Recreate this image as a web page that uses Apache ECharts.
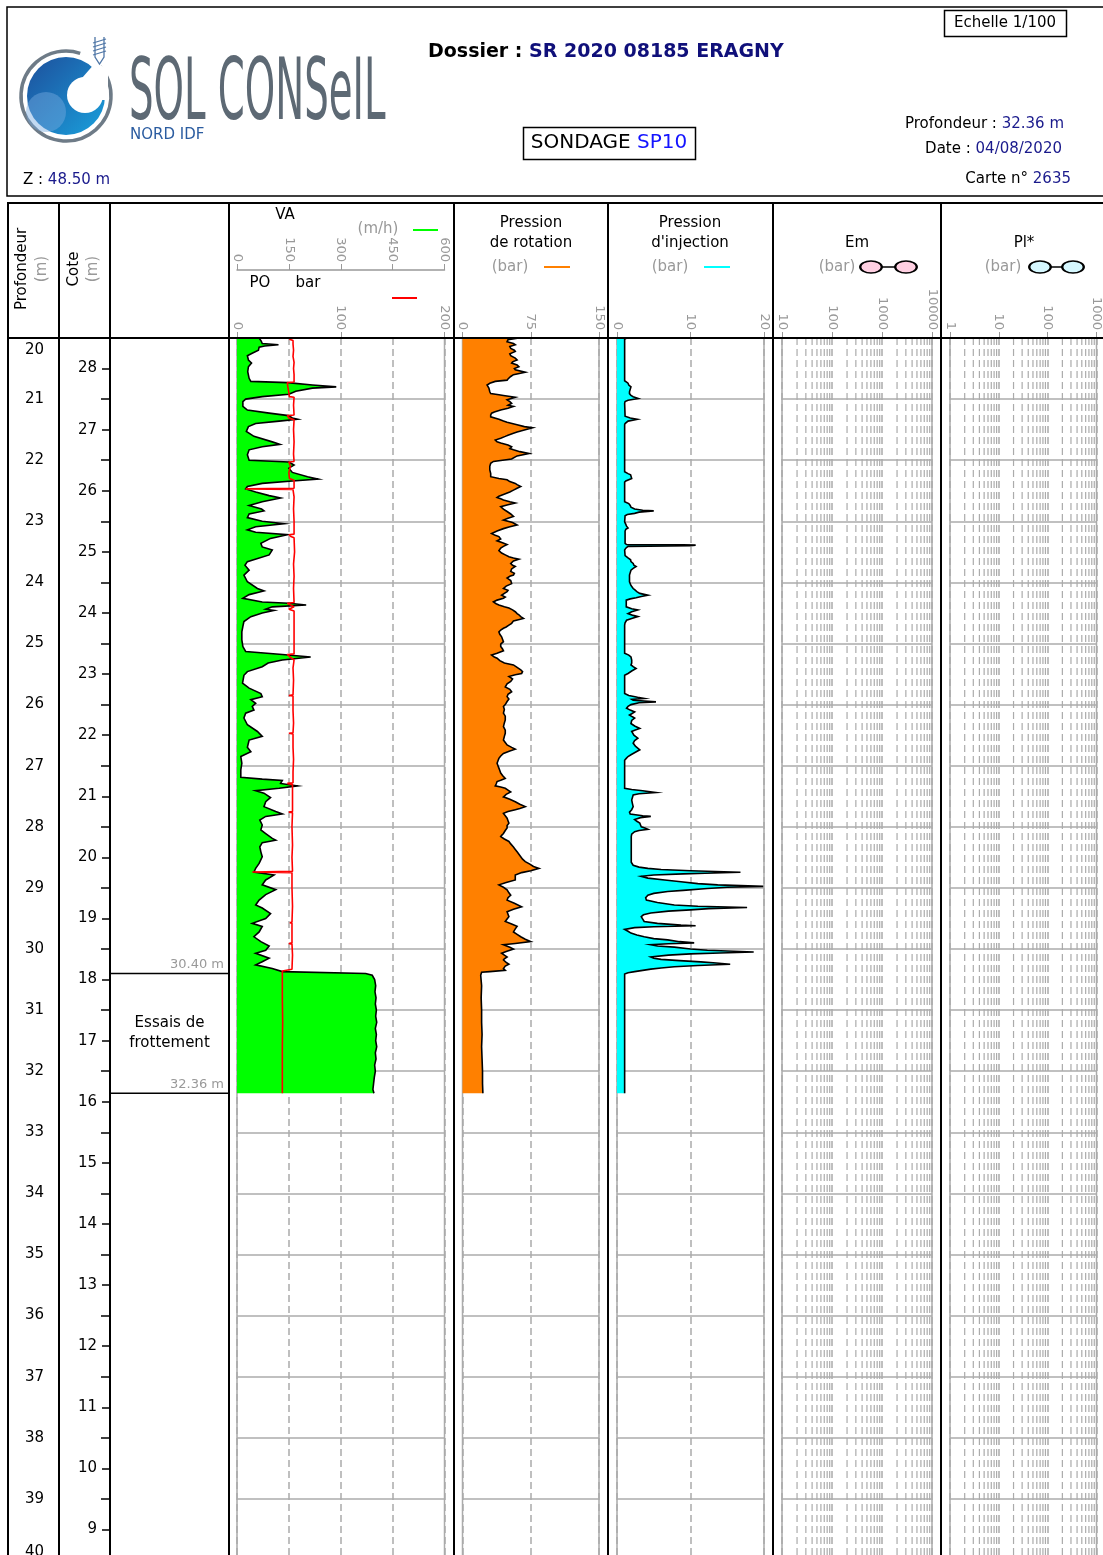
<!DOCTYPE html>
<html><head><meta charset="utf-8">
<script src="https://cdn.jsdelivr.net/npm/echarts@6/dist/echarts.min.js"></script>
<style>html,body{margin:0;padding:0;background:#fff;overflow:hidden;}#c{width:1103px;height:1575px;}</style>
</head><body><div id="c"></div>
<script>
// ---------------- DATA ----------------
const depthRange = [20, 40];
const groundLevel = 48.50;
const coteMajor = [28,27,26,25,24,23,22,21,20,19,18,17,16,15,14,13,12,11,10,9];
const coteMinor = [27.5,26.5,25.5,24.5,23.5,22.5,21.5,20.5,19.5,18.5,17.5,16.5,15.5,14.5,13.5,12.5,11.5,10.5,9.5];
const poTicks = [0, 100, 200];
const emMinor = [20,30,40,50,60,70,80,90,200,300,400,500,600,700,800,900,2000,3000,4000,5000,6000,7000,8000,9000];
const plMinor = [2,3,4,5,6,7,8,9,20,30,40,50,60,70,80,90,200,300,400,500,600,700,800,900];
const layerBottoms = [30.40, 32.36];
const layerNames = ['', 'Essais de\nfrottement'];

// [depth m, VA m/h]
const VA = [[20.00,64],[20.05,70],[20.09,73],[20.11,120],[20.13,80],[20.15,64],[20.20,62],[20.25,44],[20.29,30],[20.36,33],[20.41,42],[20.47,33],[20.55,31],[20.66,35],[20.71,40],[20.73,146],[20.77,218],[20.80,287],[20.82,218],[20.87,170],[20.92,150],[20.96,73],[21.00,25],[21.04,17],[21.12,17],[21.18,30],[21.23,93],[21.27,149],[21.31,160],[21.33,175],[21.36,122],[21.40,54],[21.45,33],[21.53,27],[21.61,49],[21.70,102],[21.74,124],[21.78,73],[21.83,35],[21.91,30],[22.00,35],[22.03,150],[22.08,165],[22.13,150],[22.20,160],[22.27,204],[22.31,235],[22.34,160],[22.38,73],[22.43,30],[22.47,25],[22.52,54],[22.58,93],[22.62,126],[22.68,73],[22.74,35],[22.80,71],[22.83,78],[22.88,35],[22.94,30],[23.00,73],[23.04,136],[23.09,54],[23.14,30],[23.18,54],[23.22,146],[23.28,97],[23.36,69],[23.42,73],[23.47,102],[23.55,93],[23.66,30],[23.72,23],[23.80,35],[23.88,20],[23.99,30],[24.10,59],[24.14,78],[24.20,35],[24.26,17],[24.32,73],[24.34,150],[24.37,200],[24.40,102],[24.44,83],[24.46,107],[24.50,73],[24.56,40],[24.64,20],[24.72,17],[24.81,14],[24.94,14],[25.05,17],[25.13,25],[25.18,131],[25.22,213],[25.27,131],[25.32,90],[25.38,73],[25.46,30],[25.52,20],[25.65,16],[25.73,35],[25.82,69],[25.87,73],[25.92,40],[25.98,54],[26.03,44],[26.09,49],[26.14,25],[26.22,20],[26.33,30],[26.44,59],[26.52,73],[26.58,35],[26.70,30],[26.77,40],[26.85,11],[26.96,14],[27.07,11],[27.19,11],[27.22,73],[27.24,131],[27.29,126],[27.33,175],[27.37,122],[27.41,54],[27.45,78],[27.52,97],[27.59,83],[27.67,78],[27.75,112],[27.79,131],[27.83,83],[27.89,66],[27.97,73],[28.05,69],[28.11,83],[28.19,102],[28.22,112],[28.26,73],[28.33,66],[28.41,69],[28.49,73],[28.60,64],[28.68,54],[28.74,49],[28.79,107],[28.87,83],[28.95,73],[29.03,112],[29.11,83],[29.20,64],[29.28,54],[29.33,73],[29.42,97],[29.50,83],[29.58,44],[29.63,73],[29.72,64],[29.80,49],[29.88,69],[29.95,93],[30.02,83],[30.07,54],[30.15,93],[30.21,73],[30.26,54],[30.32,102],[30.37,131],[30.40,372],[30.43,391],[30.50,398],[30.60,401],[30.70,399],[30.80,402],[30.90,400],[31.00,403],[31.10,401],[31.20,404],[31.30,400],[31.40,403],[31.50,401],[31.60,404],[31.70,400],[31.80,402],[31.90,398],[32.00,400],[32.10,397],[32.20,395],[32.30,393],[32.36,396]];

// [depth m, PO bar]
const PO = [[20.00,53],[20.02,50.5],[20.04,54],[20.07,52.5],[20.10,54],[20.20,54.5],[20.30,54],[20.40,55],[20.50,54.5],[20.60,55],[20.72,55],[20.73,48.5],[20.80,49],[20.90,50],[20.96,50.5],[20.97,55],[21.10,54.5],[21.26,55],[21.27,48.5],[21.31,50],[21.34,55],[21.50,54.5],[21.70,55],[21.90,54.5],[22.02,55],[22.03,50],[22.10,51.5],[22.20,50],[22.30,50.5],[22.33,55],[22.46,55],[22.47,8.4],[22.48,54],[22.60,55],[22.80,54.5],[23.00,55],[23.21,55],[23.22,50],[23.25,52],[23.27,55],[23.50,55.5],[23.70,54.5],[23.90,55],[24.10,54.5],[24.33,55],[24.34,48.5],[24.37,50],[24.40,55],[24.44,50],[24.47,55],[24.70,55],[24.90,55],[25.17,55],[25.18,48.5],[25.22,51],[25.27,55],[25.40,54],[25.60,54.5],[25.84,54],[25.85,50],[25.86,54],[26.10,54],[26.30,54.5],[26.46,54],[26.47,50],[26.48,54],[26.70,54],[26.90,54.5],[27.10,54],[27.28,54],[27.29,48.5],[27.31,53.5],[27.50,53.5],[27.75,53.5],[27.76,50],[27.77,53.5],[28.00,53],[28.30,53.5],[28.50,53],[28.73,53.5],[28.74,14.8],[28.75,53],[29.00,53],[29.30,53.5],[29.56,53],[29.57,51],[29.58,53],[29.80,53],[29.90,53],[29.91,50],[29.92,53],[30.10,53.5],[30.33,53],[30.35,51.5],[30.36,43.7],[30.80,43.7],[31.20,44],[31.60,43.7],[32.00,43.7],[32.36,43.7]];

// [depth m, rotation pressure bar]
const ROT = [[20.00,62],[20.03,50],[20.06,49],[20.09,56],[20.11,58],[20.14,52],[20.17,53],[20.20,57],[20.22,58],[20.26,52],[20.29,53],[20.33,58],[20.36,60],[20.39,55],[20.41,54],[20.44,60],[20.47,62],[20.50,57],[20.52,58],[20.56,69],[20.60,56],[20.63,53],[20.67,50],[20.69,49],[20.71,36],[20.74,30],[20.77,27],[20.82,29],[20.88,30],[20.91,31],[20.93,40],[20.94,45],[20.97,58],[21.01,49],[21.04,52],[21.07,54],[21.10,50],[21.12,56],[21.15,50],[21.18,42],[21.21,35],[21.23,32],[21.26,31],[21.29,31],[21.33,40],[21.36,45],[21.38,49],[21.42,60],[21.45,68],[21.47,77],[21.51,67],[21.54,60],[21.56,56],[21.59,50],[21.61,47],[21.64,42],[21.67,36],[21.70,38],[21.72,42],[21.75,50],[21.78,54],[21.81,52],[21.83,56],[21.86,63],[21.89,73],[21.93,60],[21.98,54],[22.02,34],[22.05,31],[22.10,30],[22.16,30],[22.22,31],[22.27,31],[22.30,40],[22.32,49],[22.35,52],[22.38,58],[22.40,60],[22.43,64],[22.46,60],[22.49,56],[22.52,52],[22.56,45],[22.59,40],[22.61,38],[22.63,42],[22.65,45],[22.68,52],[22.70,58],[22.73,50],[22.76,42],[22.80,45],[22.84,49],[22.88,53],[22.92,56],[22.95,50],[22.98,45],[23.02,55],[23.06,60],[23.09,52],[23.12,45],[23.16,38],[23.20,32],[23.23,36],[23.25,40],[23.29,42],[23.32,38],[23.35,44],[23.38,49],[23.41,45],[23.44,42],[23.48,40],[23.52,43],[23.55,47],[23.58,51],[23.60,56],[23.62,62],[23.65,56],[23.69,53],[23.72,55],[23.74,58],[23.78,54],[23.82,53],[23.85,57],[23.88,56],[23.90,52],[23.93,49],[23.97,53],[24.02,54],[24.06,48],[24.10,45],[24.13,50],[24.15,49],[24.18,46],[24.21,43],[24.24,47],[24.26,45],[24.29,38],[24.32,34],[24.35,37],[24.37,40],[24.40,46],[24.42,51],[24.45,55],[24.48,58],[24.51,60],[24.53,62],[24.56,64],[24.59,67],[24.63,56],[24.67,54],[24.70,51],[24.73,48],[24.75,45],[24.78,42],[24.81,40],[24.85,41],[24.89,43],[24.93,44],[24.97,45],[25.01,42],[25.05,42],[25.09,44],[25.12,45],[25.16,38],[25.19,32],[25.22,35],[25.24,38],[25.28,41],[25.32,46],[25.35,56],[25.39,60],[25.43,64],[25.46,66],[25.49,65],[25.51,58],[25.54,51],[25.58,55],[25.62,53],[25.66,49],[25.71,47],[25.75,52],[25.79,54],[25.83,50],[25.87,49],[25.91,51],[25.95,49],[26.00,47],[26.03,45],[26.08,46],[26.14,45],[26.19,47],[26.25,47],[26.30,46],[26.36,45],[26.42,47],[26.47,47],[26.52,46],[26.58,45],[26.62,47],[26.66,49],[26.70,54],[26.73,58],[26.76,52],[26.80,45],[26.84,42],[26.88,40],[26.92,39],[26.96,38],[27.00,39],[27.04,40],[27.08,41],[27.12,42],[27.16,44],[27.21,47],[27.24,42],[27.26,38],[27.30,37],[27.33,36],[27.35,42],[27.37,47],[27.40,50],[27.43,53],[27.47,48],[27.51,45],[27.55,52],[27.59,58],[27.63,63],[27.67,69],[27.70,63],[27.72,58],[27.75,50],[27.78,45],[27.82,47],[27.86,49],[27.90,50],[27.94,51],[27.98,49],[28.02,49],[28.06,47],[28.11,45],[28.14,43],[28.16,42],[28.20,46],[28.24,51],[28.28,53],[28.33,56],[28.37,58],[28.41,60],[28.45,62],[28.49,64],[28.53,66],[28.57,69],[28.61,74],[28.65,78],[28.68,84],[28.72,75],[28.75,65],[28.79,58],[28.83,58],[28.87,58],[28.91,48],[28.95,40],[28.99,45],[29.03,49],[29.08,51],[29.12,53],[29.16,50],[29.20,49],[29.25,57],[29.31,65],[29.35,56],[29.39,49],[29.43,50],[29.47,51],[29.51,49],[29.55,47],[29.59,54],[29.63,60],[29.67,58],[29.72,56],[29.76,60],[29.80,64],[29.84,69],[29.88,75],[29.91,58],[29.93,45],[29.97,52],[30.00,56],[30.04,48],[30.07,43],[30.10,46],[30.13,49],[30.16,46],[30.18,45],[30.22,48],[30.25,51],[30.28,47],[30.32,45],[30.35,47],[30.37,30],[30.38,21],[30.43,20],[30.60,21],[30.80,20.5],[31.00,21],[31.20,21],[31.40,21.5],[31.60,21],[31.80,21.5],[32.00,22],[32.20,22],[32.36,22.4]];

// [depth m, injection pressure bar]
const INJ = [[20.00,1.3],[20.02,1.04],[20.70,1.04],[20.74,1.5],[20.77,1.6],[20.80,1.9],[20.84,1.8],[20.88,1.7],[20.91,1.7],[20.94,1.9],[20.96,2.2],[20.99,2.9],[21.02,1.5],[21.04,1.1],[21.07,1.04],[21.28,1.1],[21.31,1.8],[21.33,2.75],[21.36,1.5],[21.40,1.1],[21.42,1.04],[22.19,1.04],[22.22,1.5],[22.24,1.85],[22.30,2.0],[22.34,1.2],[22.36,1.04],[22.68,1.04],[22.71,1.6],[22.74,1.8],[22.77,1.9],[22.80,2.4],[22.82,3.5],[22.83,5.0],[22.85,3.0],[22.87,2.4],[22.89,1.4],[22.91,1.1],[23.01,1.04],[23.05,1.2],[23.08,1.3],[23.11,1.5],[23.13,1.2],[23.16,1.1],[23.36,1.1],[23.38,1.3],[23.385,9.0],[23.39,10.7],[23.40,10.0],[23.41,1.5],[23.44,1.2],[23.47,1.04],[23.56,1.1],[23.60,1.5],[23.63,1.85],[23.66,1.9],[23.69,2.2],[23.72,2.3],[23.74,2.6],[23.77,2.2],[23.80,1.9],[23.84,1.8],[23.88,1.7],[23.94,1.7],[23.99,1.7],[24.05,1.9],[24.10,2.2],[24.12,2.4],[24.15,2.7],[24.18,3.1],[24.21,4.2],[24.23,3.3],[24.25,2.6],[24.27,1.8],[24.29,1.26],[24.40,1.26],[24.43,2.0],[24.45,2.84],[24.48,2.0],[24.51,1.5],[24.54,2.2],[24.56,2.84],[24.59,2.0],[24.62,1.3],[24.66,1.1],[24.70,1.04],[25.16,1.04],[25.19,1.6],[25.22,1.9],[25.27,2.0],[25.32,2.0],[25.35,1.9],[25.38,2.2],[25.41,2.6],[25.45,2.0],[25.49,1.5],[25.52,1.04],[25.82,1.04],[25.85,1.6],[25.88,2.8],[25.90,3.7],[25.915,2.0],[25.93,2.2],[25.955,5.3],[25.97,3.0],[26.00,1.9],[26.03,1.5],[26.06,1.3],[26.09,1.8],[26.12,2.4],[26.15,2.0],[26.17,1.7],[26.20,2.1],[26.22,2.4],[26.26,2.0],[26.31,1.9],[26.35,2.4],[26.39,3.1],[26.42,2.4],[26.44,2.0],[26.50,2.3],[26.55,2.84],[26.59,2.4],[26.63,2.2],[26.68,2.5],[26.74,3.1],[26.78,2.5],[26.82,1.9],[26.85,1.5],[26.88,1.26],[26.91,1.04],[27.37,1.04],[27.39,2.0],[27.41,3.5],[27.44,5.3],[27.46,3.0],[27.48,2.2],[27.52,2.1],[27.56,2.0],[27.62,2.1],[27.67,2.2],[27.72,2.0],[27.76,1.7],[27.79,1.8],[27.82,3.5],[27.83,4.6],[27.85,3.2],[27.88,2.4],[27.91,2.7],[27.94,3.1],[27.97,3.2],[28.00,3.3],[28.02,3.8],[28.04,4.2],[28.06,3.0],[28.08,2.4],[28.12,2.0],[28.16,1.94],[28.30,1.94],[28.45,1.94],[28.58,1.94],[28.63,2.2],[28.66,3.0],[28.68,4.2],[28.70,6.0],[28.72,10.0],[28.745,16.8],[28.76,12.0],[28.77,9.0],[28.79,5.0],[28.81,3.3],[28.84,4.2],[28.87,6.5],[28.90,8.7],[28.93,11.0],[28.95,13.7],[28.975,19.9],[28.99,15.0],[29.01,12.3],[29.04,9.0],[29.06,6.9],[29.09,5.0],[29.12,4.2],[29.16,3.9],[29.20,4.0],[29.24,5.5],[29.28,7.8],[29.30,11.0],[29.32,17.7],[29.34,12.5],[29.36,10.0],[29.38,7.0],[29.41,4.6],[29.44,3.6],[29.47,3.3],[29.51,3.5],[29.55,3.7],[29.58,5.5],[29.61,8.7],[29.62,10.7],[29.635,5.0],[29.65,2.4],[29.68,1.04],[29.71,1.5],[29.74,1.9],[29.77,2.7],[29.80,3.7],[29.83,5.0],[29.85,6.9],[29.88,8.5],[29.90,10.5],[29.915,7.0],[29.93,4.6],[29.95,5.5],[29.97,7.8],[30.00,10.0],[30.02,12.3],[30.05,18.6],[30.065,14.0],[30.08,10.0],[30.10,7.0],[30.13,4.6],[30.15,5.0],[30.17,6.0],[30.19,8.5],[30.21,11.4],[30.23,13.5],[30.25,15.4],[30.27,11.0],[30.29,7.8],[30.31,6.0],[30.33,4.6],[30.35,3.5],[30.37,2.4],[30.39,1.5],[30.41,1.04],[31.00,1.04],[31.50,1.04],[32.00,1.04],[32.36,1.04]];

// ---------------- LAYOUT ----------------
const TOP = 338, H = 1222;
const GRAY = '#ababab';
const FONT = 'DejaVu Sans';
const chart = echarts.init(document.getElementById('c'), null, {renderer: 'canvas'});

function plotGrid(left, width) {
  return {left: left, width: width, top: TOP, height: H, show: true, borderColor: GRAY, borderWidth: 1.5, backgroundColor: 'transparent', containLabel: false};
}
const grids = [
  {left: 110, width: 119, top: TOP, height: H},      // 0 lithology + depth/cote axes
  plotGrid(237, 207.5),   // 1 VA / PO
  plotGrid(462.5, 136.5), // 2 rotation
  plotGrid(617, 147),     // 3 injection
  plotGrid(782, 150),     // 4 Em
  plotGrid(950, 148)      // 5 Pl*
];

const yAxes = [
  { // 0 depth axis (Profondeur)
    gridIndex: 0, type: 'value', position: 'left', offset: 51, min: depthRange[0], max: depthRange[1], interval: 1, inverse: true,
    axisLine: {show: false},
    axisTick: {show: true, length: 9, lineStyle: {color: '#000', width: 1.5}},
    minorTick: {show: true, splitNumber: 2, length: 5, lineStyle: {color: '#000', width: 1.5}},
    axisLabel: {show: true, color: '#000', fontSize: 15, fontFamily: FONT, margin: 15,
      verticalAlignMinLabel: 'top', verticalAlignMaxLabel: 'bottom',
      formatter: v => (v === depthRange[0] ? '{t|' + v + '}' : String(v)),
      rich: {t: {padding: [5, 0, 0, 0], fontSize: 15, color: '#000'}}},
    splitLine: {show: false}
  },
  { // 1 cote axis
    gridIndex: 0, type: 'value', position: 'left', min: groundLevel - depthRange[1], max: groundLevel - depthRange[0],
    axisLine: {show: false},
    axisTick: {show: true, length: 8, customValues: coteMajor, lineStyle: {color: '#000', width: 1.5}},
    axisLabel: {show: true, customValues: coteMajor, color: '#000', fontSize: 15, fontFamily: FONT, margin: 13},
    splitLine: {show: false}
  },
  { // 2 cote minor ticks
    gridIndex: 0, type: 'value', position: 'left', min: groundLevel - depthRange[1], max: groundLevel - depthRange[0],
    axisLine: {show: false},
    axisTick: {show: true, length: 4, customValues: coteMinor, lineStyle: {color: '#000', width: 1.5}},
    axisLabel: {show: false},
    splitLine: {show: false}
  }
];
for (let g = 1; g <= 5; g++) {
  yAxes.push({gridIndex: g, type: 'value', min: depthRange[0], max: depthRange[1], interval: 1, inverse: true,
    axisLine: {show: false}, axisTick: {show: false}, axisLabel: {show: false},
    splitLine: {show: true, lineStyle: {color: GRAY, width: 1.5}}});
}
const yOf = g => 2 + g; // yAxis index of plot grid g

const tickStyle = {show: true, length: 6, lineStyle: {color: '#999', width: 1}};
const labStyle = {rotate: 90, margin: 8, color: '#999', fontSize: 13, fontFamily: FONT};
const dashed = {show: true, lineStyle: {color: GRAY, width: 1.5, type: [7, 4]}};
const intLabel = v => String(Math.round(v));

const xAxes = [
  {gridIndex: 0, type: 'value', min: 0, max: 1, show: false},                                        // 0 lithology
  {gridIndex: 1, type: 'value', position: 'top', min: 0, max: 200, interval: 50,                     // 1 PO
    axisLine: {show: false}, axisTick: Object.assign({customValues: poTicks}, tickStyle),
    axisLabel: Object.assign({customValues: poTicks}, labStyle), splitLine: {show: false}},
  {gridIndex: 1, type: 'value', position: 'top', offset: 68, min: 0, max: 600, interval: 150,        // 2 VA
    axisLine: {show: true, lineStyle: {color: '#999', width: 1.5}}, axisTick: tickStyle, axisLabel: labStyle, splitLine: dashed},
  {gridIndex: 2, type: 'value', position: 'top', min: 0, max: 150, interval: 75,                     // 3 rotation
    axisLine: {show: false}, axisTick: tickStyle, axisLabel: labStyle, splitLine: dashed},
  {gridIndex: 3, type: 'value', position: 'top', min: 0, max: 20, interval: 10,                      // 4 injection
    axisLine: {show: false}, axisTick: tickStyle, axisLabel: labStyle, splitLine: dashed},
  {gridIndex: 4, type: 'log', logBase: 10, position: 'top', min: 10, max: 10000,                     // 5 Em
    axisLine: {show: false}, axisTick: tickStyle, axisLabel: Object.assign({formatter: intLabel}, labStyle), splitLine: dashed},
  {gridIndex: 5, type: 'log', logBase: 10, position: 'top', min: 1, max: 1000,                       // 6 Pl*
    axisLine: {show: false}, axisTick: tickStyle, axisLabel: Object.assign({formatter: intLabel}, labStyle), splitLine: dashed}
];

function profile(xAxisIndex, g, pts, fill) {
  return {
    type: 'custom', xAxisIndex: xAxisIndex, yAxisIndex: yOf(g), silent: true, z: 2,
    data: pts.map(p => [p[1], p[0]]), encode: {x: 0, y: 1},
    renderItem: function (params, api) {
      if (params.dataIndex !== 0) return null;
      const line = pts.map(p => api.coord([p[1], p[0]]));
      const top = api.coord([0, pts[0][0]]);
      const bot = api.coord([0, pts[pts.length - 1][0]]);
      return {type: 'group', children: [
        {type: 'polygon', shape: {points: [top].concat(line, [bot])}, style: {fill: fill, stroke: null}},
        {type: 'polyline', shape: {points: line}, style: {stroke: '#000', lineWidth: 1.6, fill: null}}
      ]};
    }
  };
}
function minorGrid(xAxisIndex, g, vals) {
  return {
    type: 'custom', xAxisIndex: xAxisIndex, yAxisIndex: yOf(g), silent: true, z: 1,
    data: vals.map(v => [v, depthRange[0]]), encode: {x: 0, y: 1},
    renderItem: function (params, api) {
      const x = api.coord([api.value(0), depthRange[0]])[0];
      const cs = params.coordSys;
      return {type: 'line', shape: {x1: x, y1: cs.y, x2: x, y2: cs.y + cs.height},
        style: {stroke: GRAY, lineWidth: 1.2, lineDash: [7, 4]}};
    }
  };
}

const series = [
  { // lithology
    type: 'custom', xAxisIndex: 0, yAxisIndex: 0, silent: true,
    data: layerBottoms.map(b => [0, b]), encode: {x: 0, y: 1},
    renderItem: function (params, api) {
      const i = params.dataIndex;
      const bottom = layerBottoms[i];
      const top = i === 0 ? depthRange[0] : layerBottoms[i - 1];
      const cs = params.coordSys;
      const yb = api.coord([0, bottom])[1];
      const yt = api.coord([0, top])[1];
      const ch = [
        {type: 'line', shape: {x1: cs.x, y1: yb, x2: cs.x + cs.width, y2: yb}, style: {stroke: '#000', lineWidth: 1.5}},
        {type: 'text', x: cs.x + cs.width - 5, y: yb - 2, style: {text: bottom.toFixed(2) + ' m', fill: '#999', font: '13px ' + FONT, align: 'right', verticalAlign: 'bottom'}}
      ];
      if (layerNames[i]) ch.push({type: 'text', x: cs.x + cs.width / 2, y: (yt + yb) / 2,
        style: {text: layerNames[i], fill: '#000', font: '15px ' + FONT, align: 'center', verticalAlign: 'middle', lineHeight: 20}});
      return {type: 'group', children: ch};
    }
  },
  profile(2, 1, VA, '#00ff00'),
  {type: 'line', xAxisIndex: 1, yAxisIndex: yOf(1), data: PO.map(p => [p[1], p[0]]), showSymbol: false, silent: true, z: 3,
    lineStyle: {color: '#ff0000', width: 1.6}},
  profile(3, 2, ROT, '#ff8000'),
  profile(4, 3, INJ, '#00ffff'),
  minorGrid(5, 4, emMinor),
  minorGrid(6, 5, plMinor)
];

// ---------------- HEADER GRAPHICS ----------------
const G = [];
function T(text, x, y, o) {
  o = o || {};
  G.push({type: 'text', x: x, y: y, rotation: o.rot || 0, z: 100,
    style: {text: text, fill: o.color || '#000', font: (o.weight || '') + ' ' + (o.size || 15) + 'px ' + FONT,
      align: o.align || 'center', verticalAlign: 'middle', rich: o.rich}});
}
function Ln(x1, y1, x2, y2, c, w) { G.push({type: 'line', z: 100, shape: {x1, y1, x2, y2}, style: {stroke: c || '#000', lineWidth: w || 2}}); }

// frames
G.push({type: 'rect', z: 100, shape: {x: 7, y: 7, width: 1100, height: 189}, style: {fill: null, stroke: '#000', lineWidth: 1.5}});
Ln(7, 203, 1103, 203, '#000', 2);
Ln(7, 338, 1103, 338, '#000', 2);
[8, 59, 110, 229, 454, 608, 773, 941].forEach(x => Ln(x, 203, x, 1575, '#000', 2));

// logo
G.push({type: 'arc', z: 100, shape: {cx: 66, cy: 96, r: 45, startAngle: -0.72, endAngle: Math.PI * 2 - 1.25, clockwise: true}, style: {stroke: '#6e7b87', lineWidth: 3.5, fill: null}});
G.push({type: 'circle', z: 100, shape: {cx: 66, cy: 96, r: 39}, style: {fill: {type: 'linear', x: 0, y: 0, x2: 1, y2: 1, colorStops: [{offset: 0, color: '#1d4f9c'}, {offset: 1, color: '#1aa0dc'}]}}});
G.push({type: 'circle', z: 100, shape: {cx: 46, cy: 112, r: 20}, style: {fill: 'rgba(120,170,225,0.45)'}});
G.push({type: 'polygon', z: 101, shape: {points: [[82, 78], [96, 62], [108, 70], [108, 100], [98, 100]]}, style: {fill: '#fff'}});
G.push({type: 'circle', z: 101, shape: {cx: 85, cy: 95, r: 18}, style: {fill: '#fff'}});
G.push({type: 'polyline', z: 101, shape: {points: [[95, 37], [95, 57], [99.5, 64], [104, 57], [104, 37]]}, style: {stroke: '#4f76a6', lineWidth: 1.3, fill: null}});
[41, 45, 49, 53].forEach(y => Ln(93, y + 2, 106, y - 2, '#4f76a6', 1.2));
G.push({type: 'text', x: 129, y: 139.5, scaleY: 2.0, z: 100, style: {text: 'SOL CONSeIL', fill: '#5d6974', font: '43px "Liberation Sans Narrow", "DejaVu Sans Condensed", sans-serif', align: 'left', verticalAlign: 'bottom'}});
T('NORD IDF', 130, 135, {align: 'left', color: '#2b5ca0', size: 15});
T('{a|Z : }{b|48.50 m}', 23, 180, {align: 'left', rich: {a: {fill: '#000', font: '15px ' + FONT}, b: {fill: '#1a1a8c', font: '15px ' + FONT}}});
T('{a|Dossier : }{b|SR 2020 08185 ERAGNY}', 428, 52, {align: 'left', rich: {a: {fill: '#000', font: 'bold 19px ' + FONT}, b: {fill: '#10107a', font: 'bold 19px ' + FONT}}});
G.push({type: 'rect', z: 100, shape: {x: 944.5, y: 10.5, width: 122, height: 26}, style: {fill: null, stroke: '#000', lineWidth: 1.5}});
T('Echelle 1/100', 1005, 23, {size: 15});
G.push({type: 'rect', z: 100, shape: {x: 523.5, y: 127.5, width: 172, height: 32}, style: {fill: null, stroke: '#000', lineWidth: 1.5}});
T('{a|SONDAGE }{b|SP10}', 609, 143, {rich: {a: {fill: '#000', font: '20px ' + FONT}, b: {fill: '#1414ff', font: '20px ' + FONT}}});
T('{a|Profondeur : }{b|32.36 m}', 1064, 124, {align: 'right', rich: {a: {fill: '#000', font: '15px ' + FONT}, b: {fill: '#1a1a8c', font: '15px ' + FONT}}});
T('{a|Date : }{b|04/08/2020}', 1062, 149, {align: 'right', rich: {a: {fill: '#000', font: '15px ' + FONT}, b: {fill: '#1a1a8c', font: '15px ' + FONT}}});
T('{a|Carte n° }{b|2635}', 1071, 179, {align: 'right', rich: {a: {fill: '#000', font: '15px ' + FONT}, b: {fill: '#1a1a8c', font: '15px ' + FONT}}});

// column titles
T('Profondeur', 22, 269, {rot: Math.PI / 2});
T('(m)', 42, 269, {rot: Math.PI / 2, color: '#999'});
T('Cote', 74, 269, {rot: Math.PI / 2});
T('(m)', 93, 269, {rot: Math.PI / 2, color: '#999'});
T('VA', 285, 215);
T('(m/h)', 378, 229, {color: '#999'});
Ln(413, 230, 438, 230, '#00ff00', 2);
T('PO', 260, 283);
T('bar', 308, 283);
Ln(392, 298, 417, 298, '#ff0000', 2);
T('Pression', 531, 223); T('de rotation', 531, 243); T('(bar)', 510, 267, {color: '#999'});
Ln(544, 267, 570, 267, '#ff8000', 2);
T('Pression', 690, 223); T("d'injection", 690, 243); T('(bar)', 670, 267, {color: '#999'});
Ln(704, 267, 730, 267, '#00ffff', 2);
T('Em', 857, 243); T('(bar)', 837, 267, {color: '#999'});
T('Pl*', 1024, 243); T('(bar)', 1003, 267, {color: '#999'});
function dumbbell(x1, x2, y, fill) {
  Ln(x1, y, x2, y, '#000', 1.5);
  [x1, x2].forEach(x => G.push({type: 'circle', z: 101, x: x, y: y, scaleX: 1.8, shape: {cx: 0, cy: 0, r: 6}, style: {fill: fill, stroke: '#000', lineWidth: 1.3, strokeNoScale: true}}));
}
dumbbell(871, 906, 267, '#ffd0e2');
dumbbell(1040, 1073, 267, '#d6f8ff');

chart.setOption({
  animation: false,
  backgroundColor: '#fff',
  textStyle: {fontFamily: FONT},
  grid: grids,
  xAxis: xAxes,
  yAxis: yAxes,
  series: series,
  graphic: {elements: G}
});
</script>
</body></html>
